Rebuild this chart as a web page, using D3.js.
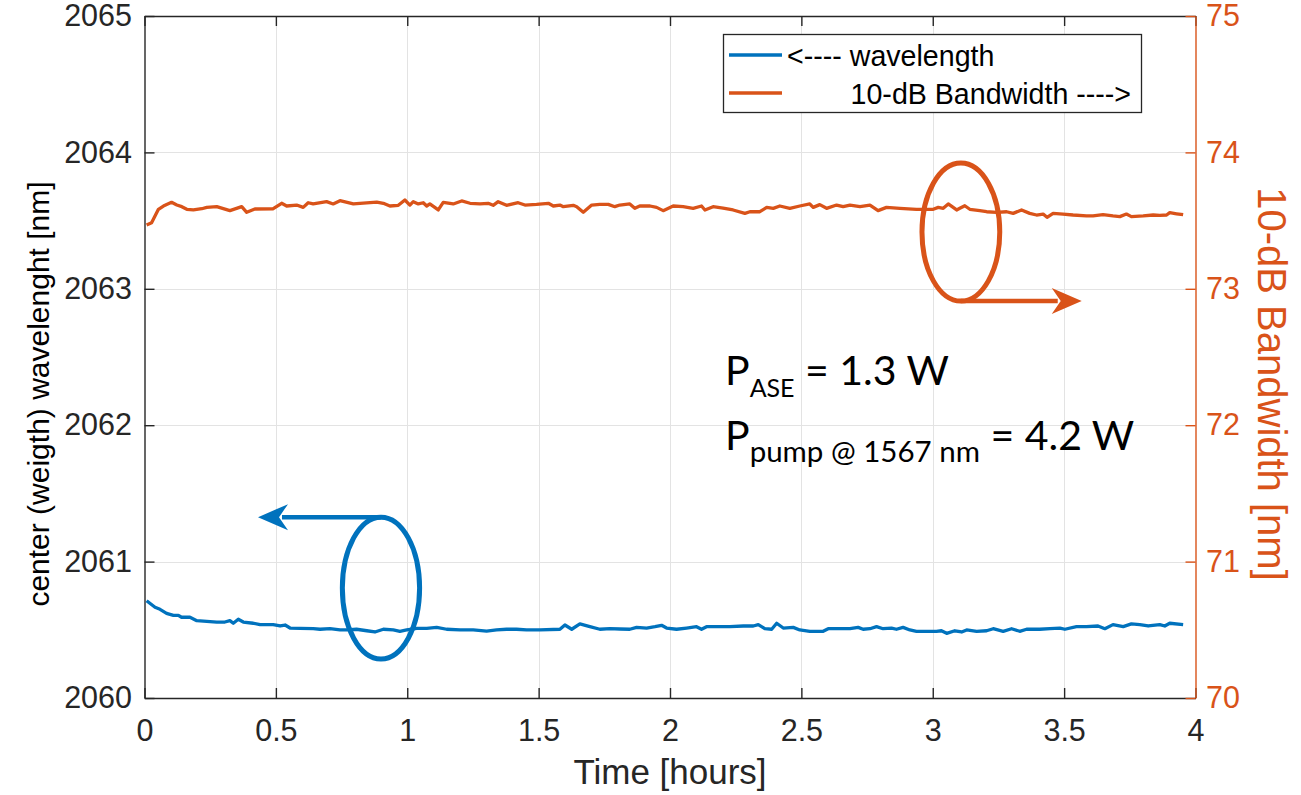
<!DOCTYPE html>
<html>
<head>
<meta charset="utf-8">
<script src="https://cdn.jsdelivr.net/npm/d3@7"></script>
<style>
  html, body { margin: 0; padding: 0; background: #fff; }
  svg { display: block; }
</style>
</head>
<body>
<svg id="chart" width="1301" height="795"></svg>
<script>
// ---- data ----------------------------------------------------------------
// center (weight) wavelength, left axis [nm]
const timeWavelength = [0.008,0.040,0.059,0.084,0.110,0.129,0.141,0.173,0.199,0.237,0.275,0.306,0.325,0.338,0.357,0.376,0.414,0.440,0.490,0.516,0.535,0.554,0.592,0.642,0.668,0.706,0.744,0.769,0.807,0.846,0.877,0.909,0.947,0.972,0.998,1.036,1.074,1.112,1.150,1.201,1.251,1.302,1.340,1.378,1.416,1.454,1.505,1.581,1.600,1.626,1.657,1.695,1.733,1.771,1.809,1.847,1.873,1.911,1.943,1.968,1.987,2.025,2.063,2.101,2.120,2.139,2.177,2.228,2.279,2.317,2.336,2.361,2.387,2.406,2.431,2.469,2.494,2.532,2.583,2.602,2.647,2.685,2.716,2.735,2.761,2.786,2.811,2.843,2.862,2.887,2.913,2.938,2.976,3.014,3.033,3.053,3.084,3.110,3.129,3.167,3.205,3.230,3.268,3.300,3.331,3.357,3.407,3.446,3.484,3.503,3.547,3.585,3.629,3.655,3.686,3.725,3.756,3.788,3.820,3.864,3.883,3.902,3.953];
const wavelength = [2060.713,2060.665,2060.650,2060.621,2060.606,2060.606,2060.592,2060.592,2060.567,2060.562,2060.557,2060.557,2060.567,2060.548,2060.577,2060.557,2060.548,2060.538,2060.538,2060.528,2060.535,2060.513,2060.511,2060.508,2060.504,2060.508,2060.499,2060.499,2060.504,2060.493,2060.484,2060.504,2060.499,2060.489,2060.499,2060.511,2060.511,2060.518,2060.504,2060.499,2060.499,2060.491,2060.499,2060.504,2060.504,2060.499,2060.499,2060.504,2060.535,2060.504,2060.543,2060.523,2060.504,2060.508,2060.506,2060.504,2060.518,2060.513,2060.523,2060.533,2060.513,2060.504,2060.513,2060.523,2060.504,2060.523,2060.523,2060.523,2060.528,2060.528,2060.538,2060.508,2060.504,2060.548,2060.513,2060.518,2060.499,2060.489,2060.489,2060.508,2060.508,2060.508,2060.518,2060.504,2060.508,2060.523,2060.508,2060.513,2060.504,2060.518,2060.499,2060.489,2060.489,2060.489,2060.493,2060.474,2060.493,2060.484,2060.499,2060.489,2060.493,2060.508,2060.489,2060.508,2060.489,2060.504,2060.504,2060.508,2060.513,2060.504,2060.523,2060.523,2060.528,2060.508,2060.538,2060.523,2060.543,2060.538,2060.528,2060.538,2060.528,2060.548,2060.538];

// 10-dB bandwidth, right axis [nm]
const timeBandwidth = [0.008,0.027,0.053,0.072,0.103,0.123,0.142,0.161,0.186,0.218,0.237,0.275,0.325,0.370,0.389,0.420,0.490,0.522,0.541,0.579,0.604,0.623,0.642,0.693,0.718,0.744,0.795,0.820,0.884,0.909,0.934,0.966,0.991,1.010,1.023,1.042,1.061,1.074,1.086,1.118,1.137,1.175,1.207,1.239,1.277,1.308,1.327,1.346,1.378,1.422,1.448,1.492,1.537,1.556,1.581,1.594,1.632,1.645,1.670,1.702,1.733,1.765,1.790,1.809,1.847,1.866,1.885,1.924,1.949,1.974,2.012,2.050,2.088,2.120,2.133,2.164,2.202,2.240,2.285,2.304,2.342,2.368,2.393,2.418,2.456,2.494,2.532,2.545,2.570,2.596,2.634,2.659,2.685,2.723,2.761,2.792,2.824,2.875,2.938,3.002,3.021,3.040,3.059,3.091,3.103,3.122,3.141,3.179,3.205,3.243,3.281,3.306,3.338,3.369,3.395,3.420,3.435,3.458,3.496,3.534,3.585,3.610,3.648,3.686,3.712,3.737,3.756,3.801,3.839,3.864,3.890,3.902,3.928,3.953];
const bandwidth = [73.468,73.485,73.583,73.607,73.634,73.614,73.602,73.583,73.578,73.587,73.597,73.602,73.573,73.602,73.561,73.585,73.587,73.627,73.607,73.614,73.597,73.631,73.622,73.639,73.622,73.646,73.622,73.627,73.636,73.627,73.607,73.612,73.651,73.614,73.639,73.622,73.631,73.607,73.622,73.578,73.634,73.622,73.644,73.627,73.622,73.627,73.612,73.639,73.612,73.631,73.614,73.619,73.627,73.607,73.614,73.602,73.612,73.602,73.561,73.614,73.619,73.619,73.602,73.614,73.622,73.590,73.607,73.607,73.597,73.573,73.607,73.602,73.590,73.607,73.578,73.602,73.592,73.578,73.553,73.565,73.565,73.597,73.590,73.607,73.590,73.607,73.622,73.597,73.617,73.590,73.614,73.602,73.614,73.602,73.614,73.573,73.597,73.590,73.583,73.583,73.597,73.590,73.622,73.578,73.590,73.609,73.583,73.573,73.565,73.561,73.565,73.553,73.578,73.553,73.541,73.548,73.524,73.553,73.548,73.541,73.534,73.534,73.543,73.534,73.529,73.548,73.529,73.534,73.541,73.538,73.541,73.558,73.550,73.543];

// axis ticks
const xTicks = [0, 0.5, 1, 1.5, 2, 2.5, 3, 3.5, 4];
const xTickLabels = ["0", "0.5", "1", "1.5", "2", "2.5", "3", "3.5", "4"];
const yLeftTicks = [2060, 2061, 2062, 2063, 2064, 2065];
const yRightTicks = [70, 71, 72, 73, 74, 75];

// text
const xTitle = "Time [hours]";
const yLeftTitle = "center (weigth) wavelenght [nm]";
const yRightTitle = "10-dB Bandwidth [nm]";
const legendLabels = ["<---- wavelength", "        10-dB Bandwidth ---->"];

// ---- layout & style ------------------------------------------------------
const BLUE = "#0072BD", ORANGE = "#D95319", AXIS = "#262626", GRID = "#e3e3e3";
const FONT = "'Liberation Sans', Arial, Helvetica, sans-serif";
const plot = { left: 144.5, right: 1195.5, top: 16, bottom: 698 };

const svg = d3.select("#chart");

const x = d3.scaleLinear().domain([0, 4]).range([plot.left, plot.right]);
const yL = d3.scaleLinear().domain([2060, 2065]).range([plot.bottom, plot.top]);
const yR = d3.scaleLinear().domain([70, 75]).range([plot.bottom, plot.top]);

// grid
const grid = svg.append("g").attr("stroke", GRID).attr("stroke-width", 1);
grid.selectAll("line.gx").data(xTicks.slice(1, -1)).join("line")
  .attr("x1", d => Math.round(x(d)) + 0.5).attr("x2", d => Math.round(x(d)) + 0.5)
  .attr("y1", plot.top).attr("y2", plot.bottom);
grid.selectAll("line.gy").data(yLeftTicks.slice(1, -1)).join("line")
  .attr("y1", d => Math.round(yL(d)) + 0.5).attr("y2", d => Math.round(yL(d)) + 0.5)
  .attr("x1", plot.left).attr("x2", plot.right);

// axes (ticks point inward)
const TICK = 10;
const bottomAxis = svg.append("g").attr("transform", `translate(0,${plot.bottom})`)
  .call(d3.axisBottom(x).tickValues(xTicks).tickFormat((d, i) => xTickLabels[i])
    .tickSizeInner(-TICK).tickSizeOuter(0).tickPadding(21));
const topAxis = svg.append("g").attr("transform", `translate(0,${plot.top})`)
  .call(d3.axisTop(x).tickValues(xTicks).tickFormat("").tickSizeInner(-TICK).tickSizeOuter(0));
const leftAxis = svg.append("g").attr("transform", `translate(${plot.left},0)`)
  .call(d3.axisLeft(yL).tickValues(yLeftTicks).tickFormat(d3.format("d"))
    .tickSizeInner(-TICK).tickSizeOuter(0).tickPadding(12.5));
const rightAxis = svg.append("g").attr("transform", `translate(${plot.right},0)`)
  .call(d3.axisRight(yR).tickValues(yRightTicks).tickFormat(d3.format("d"))
    .tickSizeInner(-TICK).tickSizeOuter(0).tickPadding(10.5));

[bottomAxis, topAxis, leftAxis].forEach(g => {
  g.selectAll("path.domain, line").attr("stroke", AXIS).attr("stroke-width", 1.4);
  g.selectAll("text").attr("fill", AXIS);
});
rightAxis.selectAll("path.domain, line").attr("stroke", ORANGE).attr("stroke-width", 1.4);
rightAxis.selectAll("text").attr("fill", ORANGE);
svg.selectAll(".tick text").attr("font-family", FONT).attr("font-size", 30.5);

// axis titles
svg.append("text").attr("x", (plot.left + plot.right) / 2).attr("y", 784)
  .attr("text-anchor", "middle").attr("font-family", FONT).attr("font-size", 35)
  .attr("fill", AXIS).text(xTitle);
svg.append("text").attr("transform", `translate(49,${(plot.top + plot.bottom) / 2 + 37}) rotate(-90)`)
  .attr("text-anchor", "middle").attr("font-family", FONT).attr("font-size", 30)
  .attr("fill", "#000").text(yLeftTitle);
svg.append("text").attr("transform", `translate(1258,${(plot.top + plot.bottom) / 2 + 27}) rotate(90)`)
  .attr("text-anchor", "middle").attr("font-family", FONT).attr("font-size", 40)
  .attr("fill", ORANGE).text(yRightTitle);

// data lines
svg.append("clipPath").attr("id", "plot-clip").append("rect")
  .attr("x", plot.left).attr("y", plot.top)
  .attr("width", plot.right - plot.left).attr("height", plot.bottom - plot.top);

const lineL = d3.line().x(d => x(d[0])).y(d => yL(d[1]));
const lineR = d3.line().x(d => x(d[0])).y(d => yR(d[1]));

svg.append("path").datum(d3.zip(timeWavelength, wavelength))
  .attr("clip-path", "url(#plot-clip)")
  .attr("fill", "none").attr("stroke", BLUE).attr("stroke-width", 3.3)
  .attr("stroke-linejoin", "round").attr("d", lineL);
svg.append("path").datum(d3.zip(timeBandwidth, bandwidth))
  .attr("clip-path", "url(#plot-clip)")
  .attr("fill", "none").attr("stroke", ORANGE).attr("stroke-width", 3.3)
  .attr("stroke-linejoin", "round").attr("d", lineR);

// ---- annotations: ellipse + arrow pointing to the owning axis ----------
function arrowHead(g, tipX, tipY, dir, color) {
  const L = 30, W = 13, N = 21; // length, half width, notch depth
  const pts = [[tipX, tipY], [tipX + dir * L, tipY - W], [tipX + dir * N, tipY], [tipX + dir * L, tipY + W]];
  g.append("path").attr("d", "M" + pts.map(p => p.join(",")).join("L") + "Z")
    .attr("fill", color).attr("stroke", "none");
}

function callout(scaleY, c, color) {
  const g = svg.append("g");
  const cx = x(c.t), cy = scaleY(c.v);
  const rx = x(c.t + c.dt) - cx, ry = cy - scaleY(c.v + c.dv);
  g.append("ellipse").attr("cx", cx).attr("cy", cy).attr("rx", rx).attr("ry", ry)
    .attr("fill", "none").attr("stroke", color).attr("stroke-width", 5);
  const ay = c.arrowAtTop ? cy - ry : cy + ry;
  const tipX = x(c.arrowTip);
  const dir = tipX < cx ? 1 : -1;
  g.append("line").attr("x1", cx).attr("y1", ay).attr("x2", tipX + dir * 24).attr("y2", ay)
    .attr("stroke", color).attr("stroke-width", 4.5);
  arrowHead(g, tipX, ay, dir, color);
}

callout(yL, { t: 0.90, v: 2060.806, dt: 0.147, dv: 0.52, arrowAtTop: true, arrowTip: 0.432 }, BLUE);
callout(yR, { t: 3.107, v: 73.416, dt: 0.148, dv: 0.506, arrowAtTop: false, arrowTip: 3.567 }, ORANGE);

// ---- pump / ASE power note ------------------------------------------------
const NOTE_FONT = "Lato, 'Open Sans', sans-serif";
const note = svg.append("g").attr("font-family", NOTE_FONT).attr("fill", "#000");
const n1 = note.append("text").attr("x", 725).attr("y", 385).attr("font-size", 41);
n1.append("tspan").text("P");
n1.append("tspan").attr("font-size", 25).attr("dy", 12).text("ASE");
n1.append("tspan").attr("dy", -12).text(" = 1.3 W");
const n2 = note.append("text").attr("x", 725).attr("y", 450).attr("font-size", 41);
n2.append("tspan").text("P");
n2.append("tspan").attr("font-size", 29.5).attr("dy", 12).text("pump @ 1567 nm");
n2.append("tspan").attr("dy", -12).text(" = 4.2 W");

// ---- legend ---------------------------------------------------------------
const legend = svg.append("g");
legend.append("rect").attr("x", 723.5).attr("y", 34.5).attr("width", 418).attr("height", 78)
  .attr("fill", "#fff").attr("stroke", AXIS).attr("stroke-width", 1.3);
const legendColors = [BLUE, ORANGE];
const rows = legend.selectAll("g.row").data(legendLabels).join("g")
  .attr("transform", (d, i) => `translate(0,${55 + i * 38})`);
rows.append("line").attr("x1", 729).attr("x2", 782).attr("y1", 0).attr("y2", 0)
  .attr("stroke", (d, i) => legendColors[i]).attr("stroke-width", 3.3);
rows.append("text").attr("x", 787).attr("y", 10.5).attr("font-family", FONT).attr("font-size", 28.6)
  .attr("fill", "#000").style("white-space", "pre").text(d => d);
</script>
</body>
</html>
